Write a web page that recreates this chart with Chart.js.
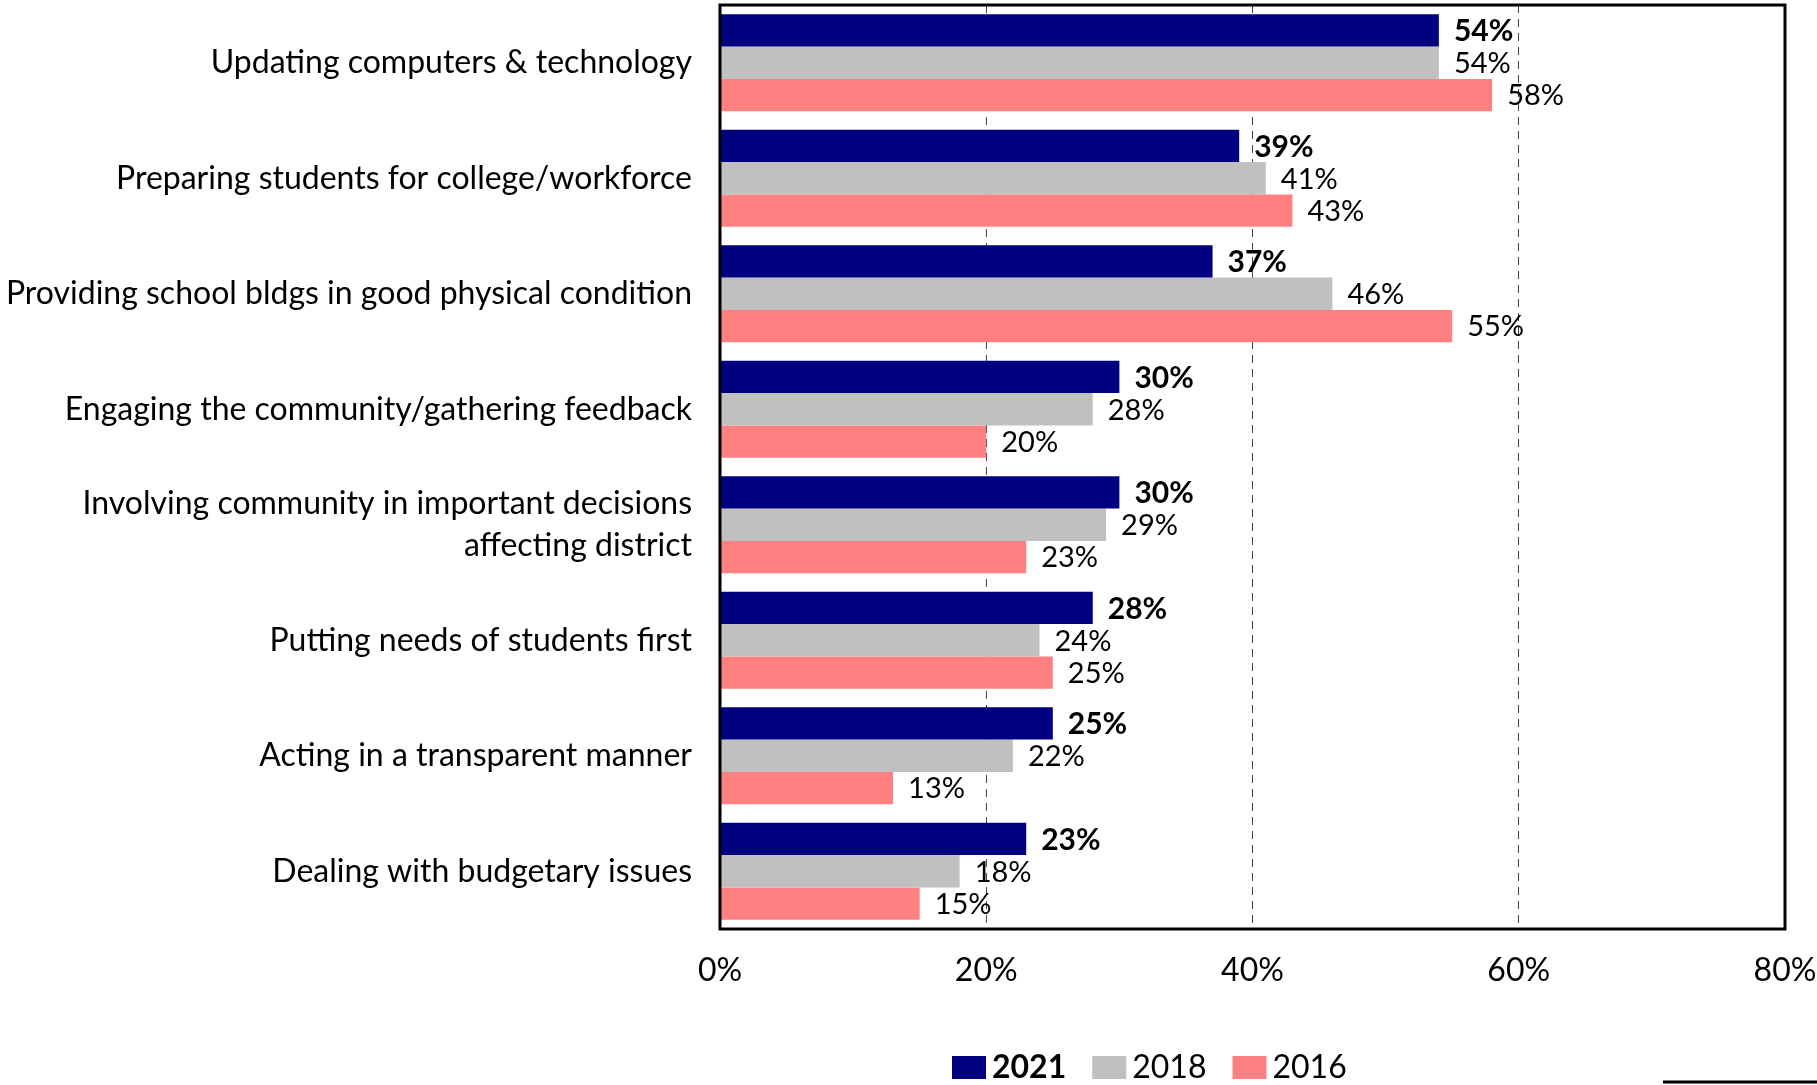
<!DOCTYPE html>
<html>
<head>
<meta charset="utf-8">
<script src="https://cdn.jsdelivr.net/npm/chart.js@4.4.1/dist/chart.umd.min.js"></script>
<style>
  html, body { margin: 0; padding: 0; background: #fff; }
  #myChart { display: block; }
</style>
</head>
<body>
<canvas id="myChart" width="1817" height="1085"></canvas>
<script>
const categories = [
    "Updating computers & technology",
    "Preparing students for college/workforce",
    "Providing school bldgs in good physical condition",
    "Engaging the community/gathering feedback",
    ["Involving community in important decisions", "affecting district"],
    "Putting needs of students first",
    "Acting in a transparent manner",
    "Dealing with budgetary issues",
];
const years = ["2021", "2018", "2016"];
const values2021 = [54, 39, 37, 30, 30, 28, 25, 23];
const values2018 = [54, 41, 46, 28, 29, 24, 22, 18];
const values2016 = [58, 43, 55, 20, 23, 25, 13, 15];
const xTicks = [0, 20, 40, 60, 80];
const colors = ["#000080", "#c0c0c0", "#ff8080"];

const FONT = "Lato, 'Open Sans', sans-serif";

// value labels next to each bar, 2021 in bold
const valueLabels = {
    id: "valueLabels",
    afterDatasetsDraw(chart) {
        const ctx = chart.ctx;
        ctx.save();
        ctx.fillStyle = "#000";
        ctx.textBaseline = "middle";
        ctx.textAlign = "left";
        chart.data.datasets.forEach((ds, i) => {
            ctx.font = (i === 0 ? "bold 30px " : "29px ") + FONT;
            chart.getDatasetMeta(i).data.forEach((bar, j) => {
                ctx.fillText(ds.data[j] + "%", bar.x + 15, bar.y + 1);
            });
        });
        ctx.restore();
    },
};

// black frame round the plot area + legend at the bottom
const frameAndLegend = {
    id: "frameAndLegend",
    afterDraw(chart) {
        const ctx = chart.ctx;
        const a = chart.chartArea;
        ctx.save();
        ctx.strokeStyle = "#000";
        ctx.lineWidth = 3;
        ctx.strokeRect(a.left, a.top, a.right - a.left, a.bottom - a.top);

        let x = 952;
        const y = 1067;
        ctx.textBaseline = "middle";
        chart.data.datasets.forEach((ds, i) => {
            ctx.fillStyle = ds.backgroundColor;
            ctx.fillRect(x, y - 11, 34, 23);
            x += 40;
            ctx.font = (i === 0 ? "bold " : "") + "32px " + FONT;
            ctx.fillStyle = "#000";
            ctx.fillText(ds.label, x, y + 1);
            x += ctx.measureText(ds.label).width + 26;
        });

        // short rule at the bottom right corner
        ctx.lineWidth = 3;
        ctx.beginPath();
        ctx.moveTo(1663, 1082);
        ctx.lineTo(1817, 1082);
        ctx.stroke();
        ctx.restore();
    },
};

new Chart(document.getElementById("myChart"), {
    type: "bar",
    data: {
        labels: categories,
        datasets: [
            { label: years[0], data: values2021, backgroundColor: colors[0] },
            { label: years[1], data: values2018, backgroundColor: colors[1] },
            { label: years[2], data: values2016, backgroundColor: colors[2] },
        ],
    },
    options: {
        indexAxis: "y",
        responsive: false,
        animation: false,
        devicePixelRatio: 1,
        categoryPercentage: 0.84,
        barPercentage: 1.0,
        layout: {
            padding: { top: 5, right: 32, bottom: 86, left: 0 },
        },
        scales: {
            x: {
                min: 0,
                max: 80,
                afterBuildTicks: (scale) => {
                    scale.ticks = xTicks.map((v) => ({ value: v }));
                },
                afterFit: (scale) => {
                    scale.height = 70;
                    scale.paddingLeft = 0;
                    scale.paddingRight = 0;
                },
                ticks: {
                    callback: (v) => v + "%",
                    font: { family: FONT, size: 32 },
                    color: "#000",
                    padding: 22,
                    maxRotation: 0,
                },
                grid: {
                    drawTicks: false,
                    color: "#444",
                    lineWidth: 1,
                },
                border: { display: false, dash: [8, 6] },
            },
            y: {
                afterFit: (scale) => {
                    scale.width = 720;
                    scale.paddingTop = 0;
                    scale.paddingBottom = 0;
                },
                ticks: {
                    font: { family: FONT, size: 32, lineHeight: 1.3 },
                    color: "#000",
                    padding: 28,
                },
                grid: { display: false, drawTicks: false },
                border: { display: false },
            },
        },
        plugins: {
            legend: { display: false },
            tooltip: { enabled: false },
        },
    },
    plugins: [valueLabels, frameAndLegend],
});
</script>
</body>
</html>
